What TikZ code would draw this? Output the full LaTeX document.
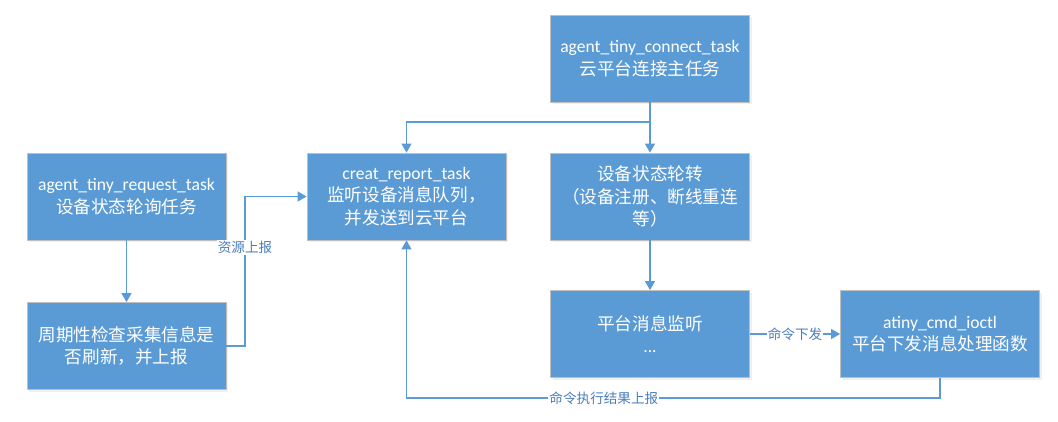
\documentclass[tikz,border=0pt]{standalone}
\usepackage{fontspec}
\setmainfont{Carlito}
\newfontfamily\cjk{Noto Sans CJK SC}
\usetikzlibrary{arrows.meta,shadows}
\definecolor{boxblue}{HTML}{5B9BD5}
\definecolor{boxborder}{HTML}{BFBFBF}
\definecolor{lineblue}{HTML}{5B9BD5}
\definecolor{lblblue}{HTML}{4A7EBB}
\tikzset{
  taskbox/.style={rectangle, fill=boxblue, draw=boxborder, line width=0.8pt,
    minimum width=199pt, minimum height=87pt, text=white, align=center,
    font=\fontsize{17.6}{22.5}\selectfont, inner sep=0pt,
    drop shadow={opacity=0.12, shadow xshift=2pt, shadow yshift=-2pt}},
  conn/.style={draw=lineblue, line width=1.4pt, -{Triangle[length=9pt,width=10pt]}},
  lbl/.style={fill=white, inner sep=1pt, text=lblblue, font=\cjk\fontsize{13.6}{15}\selectfont}
}
\begin{document}
\begin{tikzpicture}[x=1pt,y=-1pt]
\useasboundingbox (0,0) rectangle (1058,421);
\node[taskbox] (A) at (126.5,196.5) {agent\_tiny\_request\_task\\{\cjk 设备状态轮询任务}};
\node[taskbox] (B) at (126.5,346) {{\cjk 周期性检查采集信息是}\\{\cjk 否刷新，并上报}};
\node[taskbox] (C) at (406.5,196.5) {creat\_report\_task\\{\cjk 监听设备消息队列，}\\{\cjk 并发送到云平台}};
\node[taskbox] (D) at (650,58.5) {agent\_tiny\_connect\_task\\{\cjk 云平台连接主任务}};
\node[taskbox] (E) at (650,196.5) {{\cjk 设备状态轮转}\\{\cjk （设备注册、断线重连}\\{\cjk 等）}};
\node[taskbox] (F) at (650,334) {{\cjk 平台消息监听}\\...};
\node[taskbox] (G) at (940,334) {atiny\_cmd\_ioctl\\{\cjk 平台下发消息处理函数}};

\coordinate (j) at (650,122);
\coordinate (b1) at (245,346);
\coordinate (b2) at (245,196.5);
\coordinate (g1) at (940,398);
\coordinate (g2) at (406.5,398);

\draw[conn] (D.south) -- (E.north);
\draw[conn] (j) -| (C.north);
\draw[conn] (A.south) -- (B.north);
\draw[conn] (B.east) -- (b1) -- node[lbl,pos=0.66]{资源上报} (b2) -- (C.west);
\draw[conn] (E.south) -- (F.north);
\draw[conn] (F.east) -- node[lbl]{命令下发} (G.west);
\draw[conn] (G.south) -- (g1) -- node[lbl,pos=0.63]{命令执行结果上报} (g2) -- (C.south);
\end{tikzpicture}
\end{document}
